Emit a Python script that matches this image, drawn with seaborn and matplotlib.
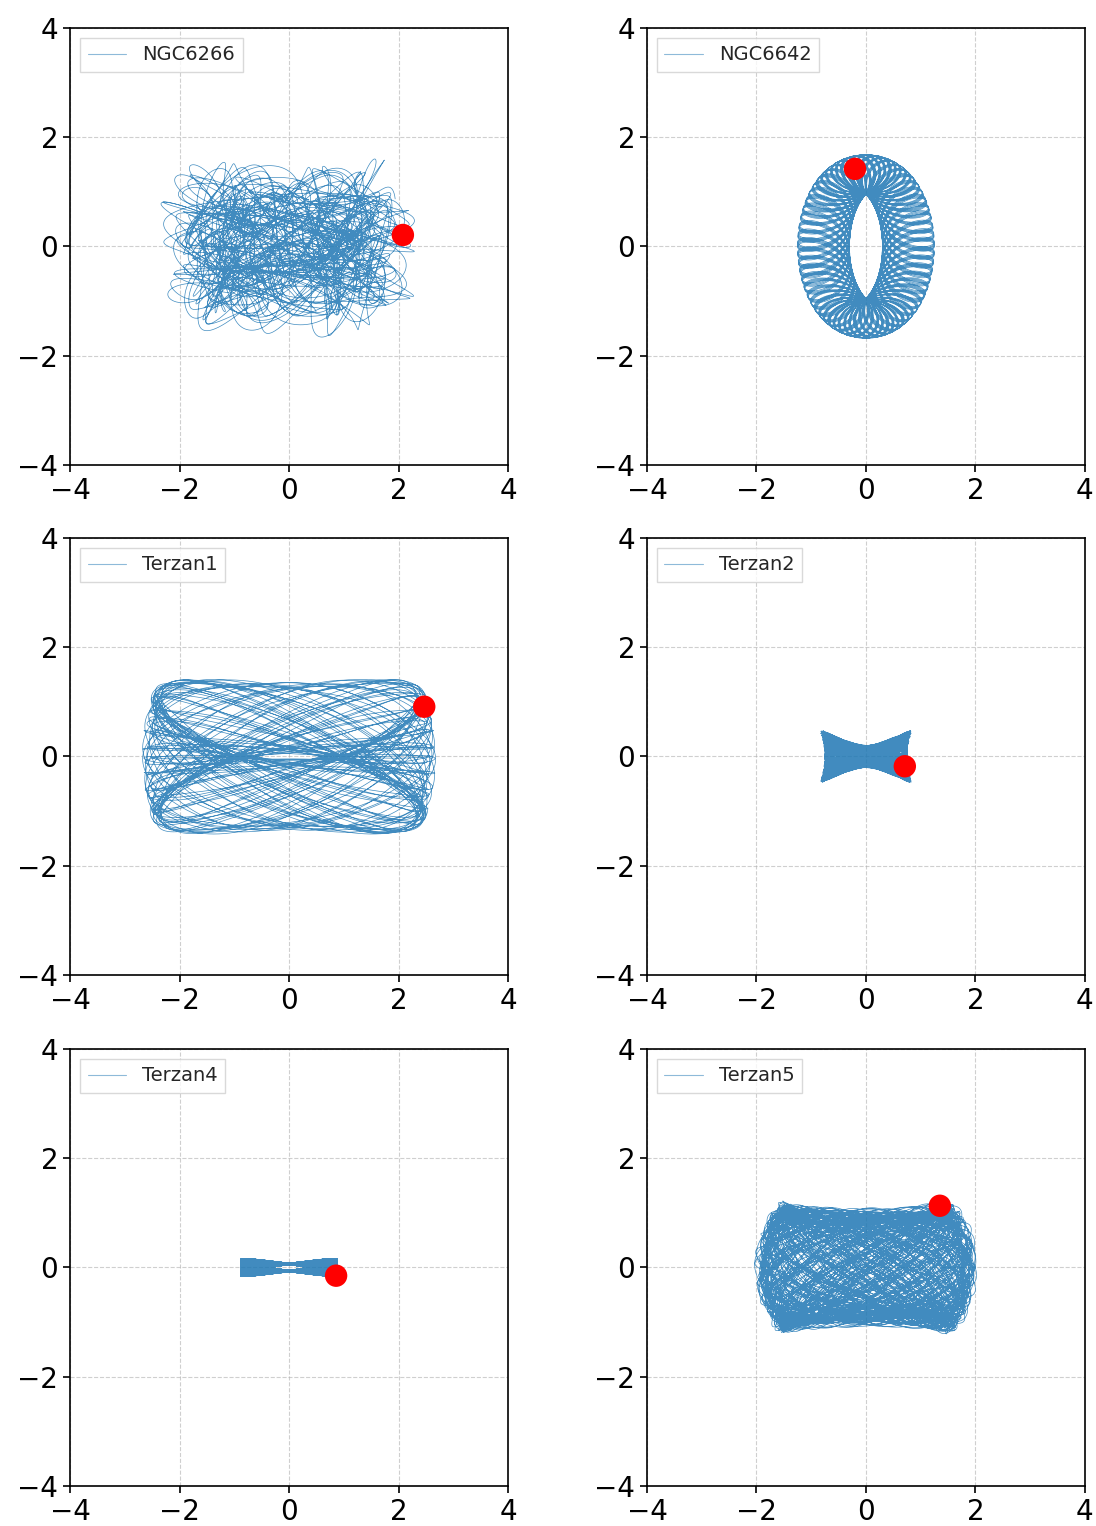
import numpy as np
import pandas as pd
import matplotlib
matplotlib.use("Agg")
import matplotlib.pyplot as plt
import seaborn as sns

# Cluster names, in panel order (row by row)
clusters = ["NGC6266", "NGC6642", "Terzan1", "Terzan2", "Terzan4", "Terzan5"]

# Present-day positions of the clusters (kpc)
x_now = [2.08, -0.20, 2.47, 0.71, 0.86, 1.35]
y_now = [0.21, 1.42, 0.91, -0.18, -0.15, 1.13]

# Orbits as leading Fourier terms: x = sum a cos(w t + p), y = sum b sin(v t + q)
# (amplitudes in kpc, frequencies relative to the fundamental)
x_amp = [[1.40, 0.50, 0.30, 0.18],
         [0.775, 0.475],
         [2.50, -0.05, -0.05, 0.08],
         [0.77, 0.0175, 0.0175, 0.02],
         [0.88, 0.008],
         [1.70, -0.10, -0.10, 0.06, 0.08]]
x_frq = [[1.000, 2.131, -3.713, 5.297],
         [1.000, -6.373],
         [1.000, 1.074, 0.926, 2.913],
         [1.000, 1.062, 0.938, 3.117],
         [1.000, 3.711],
         [1.000, 1.086, 0.914, 2.317, 5.193]]
x_phs = [[0.00, 0.30, 1.10, 2.00],
         [0.00, 0.00],
         [0.00, 0.00, 0.00, 0.40],
         [0.00, 0.00, 0.00, 0.50],
         [0.00, 0.20],
         [0.00, 0.00, 0.00, 0.70, 1.30]]

y_amp = [[0.78, 0.45, 0.30, 0.15],
         [1.33, 0.35],
         [0.70, 0.853, 0.248, 0.05],
         [0.315, 0.135, 0.025],
         [0.065, 0.086, 0.064],
         [1.00, 0.06, 0.06, 0.10]]
y_frq = [[1.193, 2.131, -3.713, 4.611],
         [1.000, -6.373],
         [1.000, 1.037, 0.963, 3.413],
         [1.031, 0.969, 2.413],
         [1.000, 1.021, 0.979],
         [1.043, 0.957, 3.307, 4.729]]
y_phs = [[0.50, 0.30, 1.10, 0.70],
         [0.00, 0.00],
         [0.00, 1.5708, 1.5708, 0.30],
         [1.5708, 1.5708, 0.00],
         [0.00, 1.5708, 1.5708],
         [1.5708, 1.5708, 0.90, 0.20]]

# Integration span (fundamental periods) and samples per orbit
n_periods = [60, 34, 70, 160, 160, 150]
n_samples = [36000, 50000, 30000, 40000, 40000, 60000]


def trace(i):
    t = np.linspace(0.0, 2 * np.pi * n_periods[i], n_samples[i])
    x = sum(a * np.cos(w * t + p) for a, w, p in zip(x_amp[i], x_frq[i], x_phs[i]))
    y = sum(b * np.sin(v * t + q) for b, v, q in zip(y_amp[i], y_frq[i], y_phs[i]))
    return pd.DataFrame({"x": x, "y": y, "cluster": clusters[i]})


sns.set_theme(style="ticks")
plt.rcParams["font.family"] = ["DejaVu Sans"]

fig = plt.figure(figsize=(10.96, 15.26), dpi=100)
lefts = [0.0639, 0.5903]
bottoms = [0.6953, 0.3611, 0.0262]
w, h = 0.3996, 0.2864

for i, name in enumerate(clusters):
    row, col = divmod(i, 2)
    ax = fig.add_axes([lefts[col], bottoms[row], w, h])
    df = trace(i)
    sns.lineplot(data=df, x="x", y="y", sort=False, estimator=None,
                 color="#1f77b4", linewidth=0.5, alpha=0.85, label=name, ax=ax)
    sns.scatterplot(x=[x_now[i]], y=[y_now[i]], color="red", s=260,
                    edgecolor="none", zorder=5, ax=ax, legend=False)
    ax.set_xlim(-4, 4)
    ax.set_ylim(-4, 4)
    ax.set_xticks([-4, -2, 0, 2, 4])
    ax.set_yticks([-4, -2, 0, 2, 4])
    ax.tick_params(labelsize=20, direction="out", length=5, width=1.2, colors="black")
    ax.grid(True, linestyle="--", color="#b0b0b0", linewidth=0.8, alpha=0.6)
    ax.set_xlabel("")
    ax.set_ylabel("")
    for sp in ax.spines.values():
        sp.set_visible(True)
        sp.set_color("black")
        sp.set_linewidth(1.2)
    leg = ax.legend(loc="upper left", fontsize=14, frameon=True, fancybox=False)
    leg.get_frame().set_edgecolor("#d0d0d0")
    for ln in leg.get_lines():
        ln.set_linewidth(0.8)
        ln.set_alpha(0.5)

fig.savefig("out.png", dpi=100)
